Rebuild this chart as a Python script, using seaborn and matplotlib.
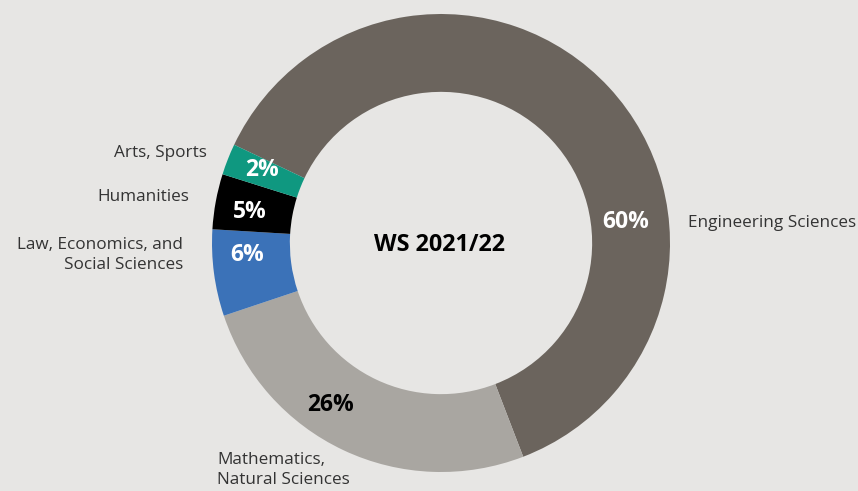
import matplotlib.pyplot as plt
import seaborn as sns

# data (clockwise from the upper left)
categories = ['Engineering Sciences', 'Mathematics,\nNatural Sciences',
              'Law, Economics, and\nSocial Sciences', 'Humanities', 'Arts, Sports']
shares = [62.1, 25.7, 6.1, 3.9, 2.2]
pct_labels = ['60%', '26%', '6%', '5%', '2%']
center_label = 'WS 2021/22'

colors = ['#6b645d', '#a9a6a1', '#3b72b8', '#000000', '#0f9880']
pct_colors = ['white', 'black', 'white', 'white', 'white']
bg = '#e7e6e4'

sns.set_theme(style='white')
plt.rcParams['font.family'] = ['Open Sans', 'DejaVu Sans']

W, H = 858, 491
cx, cy, R = 441, 243, 229

fig = plt.figure(figsize=(W / 100, H / 100), dpi=100, facecolor=bg)
ax = fig.add_axes([(cx - R) / W, 1 - (cy + R) / H, 2 * R / W, 2 * R / H])
ax.set_facecolor(bg)

ax.pie(shares, colors=colors, startangle=154.6, counterclock=False,
       radius=1, wedgeprops=dict(width=0.34, linewidth=0))
ax.set_xlim(-1, 1)
ax.set_ylim(-1, 1)
ax.set_aspect('equal')
ax.axis('off')


def px(x, y):
    return (x - cx) / R, (cy - y) / R


# percentages on the ring
pct_pos = [(626, 222), (331, 405), (247, 255), (250, 212), (262, 170)]
for lab, pos, c in zip(pct_labels, pct_pos, pct_colors):
    ax.text(*px(*pos), lab, ha='center', va='center', fontsize=16.5,
            fontweight='bold', color=c, clip_on=False)

# category labels outside the ring
cat_pos = [(688, 223, 'left'), (217, 470, 'left'), (183, 255, 'right'),
           (189, 197, 'right'), (207, 153, 'right')]
for lab, (x, y, ha) in zip(categories, cat_pos):
    ax.text(*px(x, y), lab, ha=ha, va='center', fontsize=12.3,
            color='#333333', linespacing=1.3, multialignment=ha, clip_on=False)

ax.text(*px(439, 245), center_label, ha='center', va='center', fontsize=16.8,
        fontweight='bold', color='black')

fig.savefig('out.png', dpi=100, facecolor=bg)
